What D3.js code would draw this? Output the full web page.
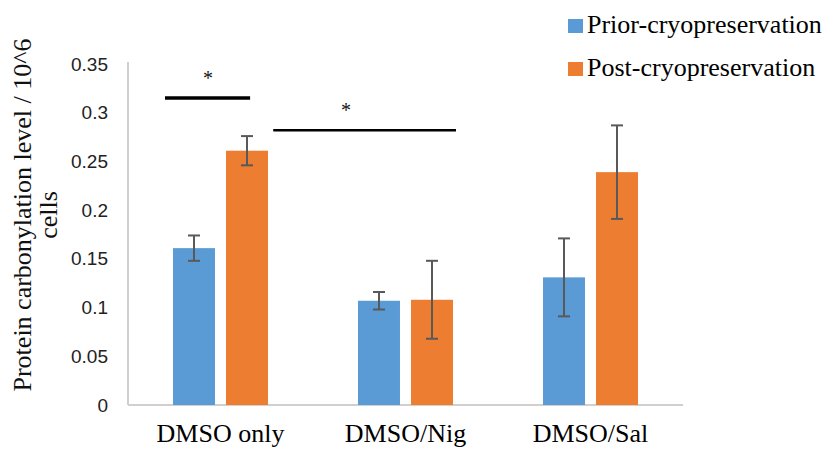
<!DOCTYPE html>
<html><head><meta charset="utf-8">
<script src="https://cdn.jsdelivr.net/npm/d3@7"></script>
<style>body{margin:0;background:#fff}svg{display:block}</style>
</head><body>
<script>
const categories = ["DMSO only", "DMSO/Nig", "DMSO/Sal"];
const seriesNames = ["Prior-cryopreservation", "Post-cryopreservation"];
const priorValues = [0.161, 0.107, 0.131];
const priorErrors = [0.013, 0.009, 0.040];
const postValues = [0.261, 0.108, 0.239];
const postErrors = [0.015, 0.040, 0.048];
const yTicks = [0, 0.05, 0.1, 0.15, 0.2, 0.25, 0.3, 0.35];
const yTickLabels = ["0", "0.05", "0.1", "0.15", "0.2", "0.25", "0.3", "0.35"];
// significance brackets: x in category units (0..3), y in data units
const sigLines = [{x1: 0.2, x2: 0.66, y: 0.315, w: 3.5}, {x1: 0.785, x2: 1.773, y: 0.282, w: 2.5}];
const sigStars = [{x: 0.432, y: 0.333}, {x: 1.178, y: 0.300}];

const colors = ["#5b9bd5", "#ed7d31"];
const W = 829, H = 449;
const svg = d3.select("body").append("svg").attr("width", W).attr("height", H);
const mLeft = 128, mRight = 683, mTop = 64, mBottom = 405;

const x = d3.scaleBand().domain(categories).range([mLeft, mRight]).padding(0);
const xs = d3.scaleBand().domain(seriesNames).range([45, 140]).paddingInner(0.208);
const xu = d3.scaleLinear().domain([0, 3]).range([mLeft, mRight]);
const y = d3.scaleLinear().domain([0, 0.35]).range([mBottom, mTop]);

// axes lines
svg.append("line").attr("x1", mLeft).attr("x2", mLeft).attr("y1", y(0.35) - 2).attr("y2", mBottom)
  .attr("stroke", "#bfbfbf").attr("stroke-width", 1.5);
svg.append("line").attr("x1", mLeft).attr("x2", mRight).attr("y1", mBottom).attr("y2", mBottom)
  .attr("stroke", "#d0d0d0").attr("stroke-width", 2);

// y tick labels
const yAxis = d3.axisLeft(y).tickValues(yTicks).tickSize(0).tickPadding(20)
  .tickFormat((d, i) => yTickLabels[i]);
const gy = svg.append("g").attr("transform", `translate(${mLeft},0)`).call(yAxis);
gy.select(".domain").remove();
gy.selectAll("text").attr("font-family", "Liberation Sans, Arial, sans-serif")
  .attr("font-size", 19).attr("fill", "#222");

// x labels
const xAxis = d3.axisBottom(x).tickSize(0).tickPadding(19);
const gx = svg.append("g").attr("transform", `translate(0,${mBottom})`).call(xAxis);
gx.select(".domain").remove();
gx.selectAll("text").attr("font-family", "Liberation Serif, Times New Roman, serif")
  .attr("font-size", 26).attr("fill", "#000");

// bars
const data = [];
categories.forEach((c, i) => {
  data.push({c, s: seriesNames[0], v: priorValues[i], e: priorErrors[i], k: 0});
  data.push({c, s: seriesNames[1], v: postValues[i], e: postErrors[i], k: 1});
});
svg.append("g").selectAll("rect").data(data).join("rect")
  .attr("x", d => x(d.c) + xs(d.s)).attr("width", xs.bandwidth())
  .attr("y", d => y(d.v)).attr("height", d => y(0) - y(d.v))
  .attr("fill", d => colors[d.k]);

// error bars
const eg = svg.append("g").attr("stroke", "#595959").attr("stroke-width", 2);
data.forEach(d => {
  const cx = x(d.c) + xs(d.s) + xs.bandwidth() / 2;
  eg.append("line").attr("x1", cx).attr("x2", cx).attr("y1", y(d.v + d.e)).attr("y2", y(d.v - d.e));
  eg.append("line").attr("x1", cx - 6).attr("x2", cx + 6).attr("y1", y(d.v + d.e)).attr("y2", y(d.v + d.e));
  eg.append("line").attr("x1", cx - 6).attr("x2", cx + 6).attr("y1", y(d.v - d.e)).attr("y2", y(d.v - d.e));
});

// significance
sigLines.forEach(s => {
  svg.append("line").attr("x1", xu(s.x1)).attr("x2", xu(s.x2)).attr("y1", y(s.y)).attr("y2", y(s.y))
    .attr("stroke", "#000").attr("stroke-width", s.w);
});
sigStars.forEach(s => {
  svg.append("text").attr("x", xu(s.x)).attr("y", y(s.y)).attr("text-anchor", "middle")
    .attr("dominant-baseline", "middle").attr("font-family", "Liberation Serif, serif")
    .attr("font-size", 20).attr("fill", "#111").text("*");
});

// y title
const yt = svg.append("text").attr("transform", "translate(22,215) rotate(-90)")
  .attr("text-anchor", "middle").attr("font-family", "Liberation Serif, Times New Roman, serif")
  .attr("font-size", 26).attr("fill", "#111");
yt.append("tspan").attr("x", 0).attr("dy", "0.35em").text("Protein carbonylation level / 10^6");
yt.append("tspan").attr("x", 0).attr("dy", "1.0em").text("cells");

// legend
const lg = svg.append("g");
seriesNames.forEach((n, i) => {
  const by = 33 + i * 43;
  lg.append("rect").attr("x", 568).attr("y", by - 14).attr("width", 15).attr("height", 14).attr("fill", colors[i]);
  lg.append("text").attr("x", 587).attr("y", by).attr("font-family", "Liberation Serif, Times New Roman, serif")
    .attr("font-size", 26).attr("fill", "#000").text(n);
});
</script>
</body></html>
